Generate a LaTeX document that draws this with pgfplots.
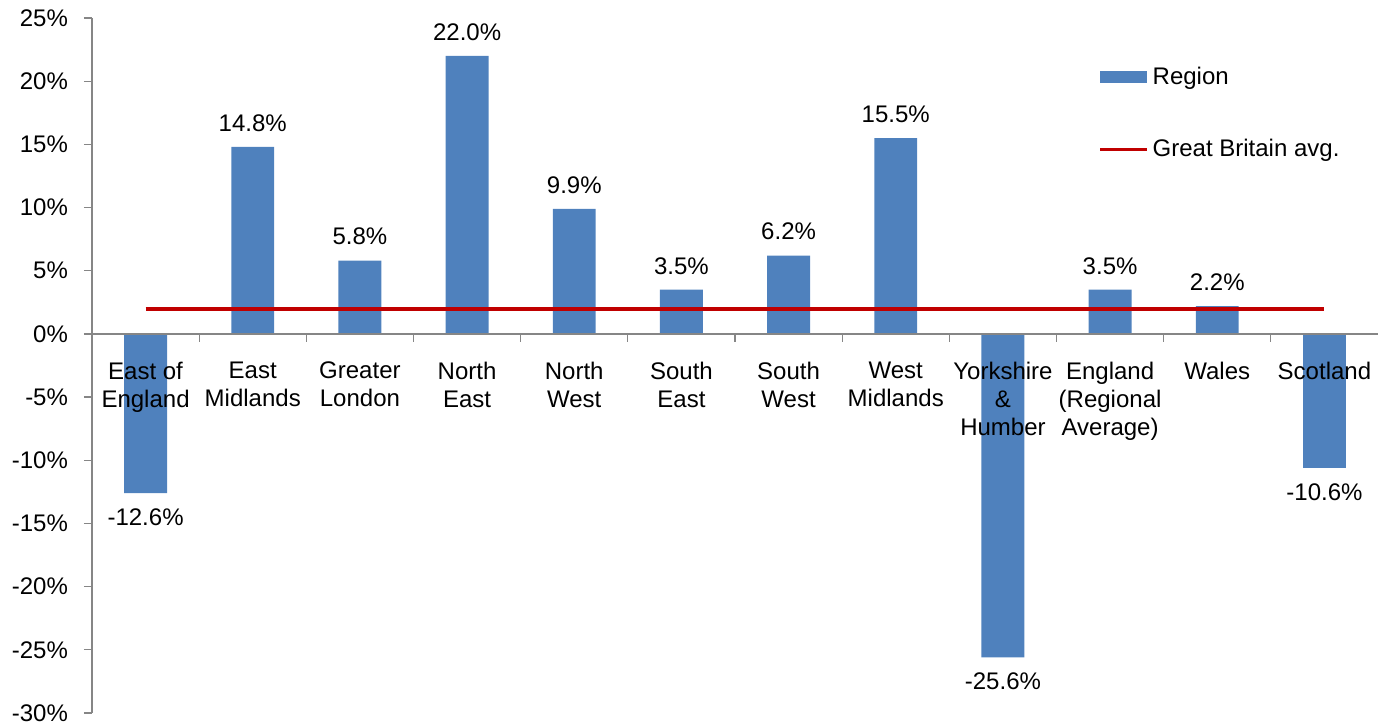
\documentclass[border=0pt]{standalone}
\usepackage{pgfplots}
\pgfplotsset{compat=1.18}
\usepackage{fontspec}
\setmainfont{Liberation Sans}
\definecolor{barblue}{HTML}{4F81BD}
\definecolor{avgred}{HTML}{C00000}
\definecolor{axgray}{HTML}{868686}
\begin{document}
\begin{tikzpicture}
\useasboundingbox (-46pt,-6.5pt) rectangle (649pt,356.5pt);
\begin{axis}[
  at={(0,0)}, anchor=south west, scale only axis,
  width=643pt, height=347.5pt,
  xmin=-0.5, xmax=11.5, ymin=-30, ymax=25,
  axis on top,
  axis x line=middle, axis y line=left,
  axis line style={-, draw=axgray, line width=0.6pt},
  hide obscured x ticks=false, hide obscured y ticks=false,
  tick align=outside,
  major tick length=4pt,
  tick style={draw=axgray, line width=0.6pt},
  ytick={-30,-25,...,25},
  yticklabel={\pgfmathprintnumber{\tick}\%},
  /pgf/number format/assume math mode=true,
  y tick label style={font=\fontsize{12}{14}\selectfont, xshift=-4.5pt},
  xtick={0.5,1.5,...,10.5},
  xticklabels={},
  extra x ticks={0,1,...,11},
  extra x tick labels={East of\\England, East\\Midlands, Greater\\London, North\\East, North\\West, South\\East, South\\West, West\\Midlands, Yorkshire\\\&\\Humber, England\\(Regional\\Average), Wales, Scotland},
  extra x tick style={major tick length=0pt, tick label style={font=\fontsize{12}{14}\selectfont, align=center, anchor=north, yshift=-10.5pt}},
  legend style={at={(0.7825,0.9357)}, anchor=north west, draw=none, fill=none, inner sep=0pt,
    font=\fontsize{12}{14}\selectfont, row sep=22pt, legend cell align=left},
]
\addplot[ybar, bar width=0.4, fill=barblue, draw=none,
  point meta=y,
  nodes near coords={\pgfmathprintnumber[fixed,fixed zerofill,precision=1]{\pgfplotspointmeta}\%},
  nodes near coords style={font=\fontsize{12}{14}\selectfont, text=black, inner xsep=2pt, inner ysep=7.5pt},
  legend image code/.code={\fill[barblue] (0pt,-3pt) rectangle (23.5pt,3pt);}]
  coordinates {(0,-12.6) (1,14.8) (2,5.8) (3,22.0) (4,9.9) (5,3.5) (6,6.2) (7,15.5) (8,-25.6) (9,3.5) (10,2.2) (11,-10.6)};
\addlegendentry{Region}
\addplot[avgred, line width=2pt, mark=none,
  legend image code/.code={\draw[avgred, line width=1.5pt] (0pt,0pt) -- (23.5pt,0pt);}]
  coordinates {(0,2.0) (11,2.0)};
\addlegendentry{Great Britain avg.}
\end{axis}
\end{tikzpicture}
\end{document}
